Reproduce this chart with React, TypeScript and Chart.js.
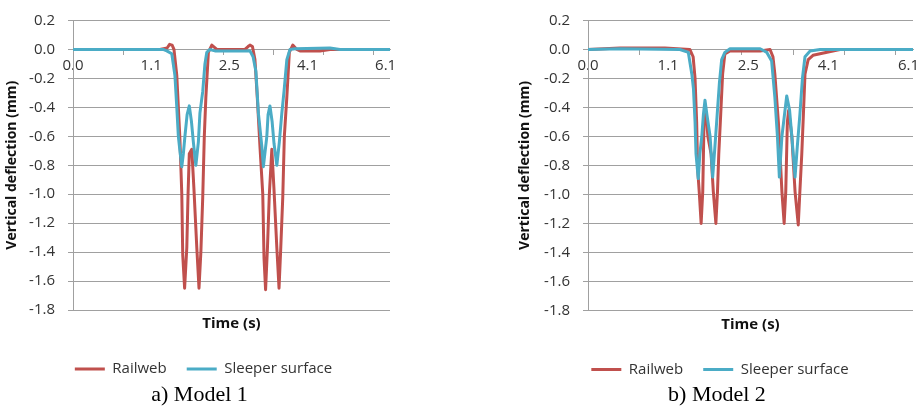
import React, { useEffect, useRef } from 'react';
import { Chart, registerables } from 'chart.js';

Chart.register(...registerables);

// ---- axis definitions ----
const yTickValues = [-1.8, -1.6, -1.4, -1.2, -1.0, -0.8, -0.6, -0.4, -0.2, 0.0, 0.2];
const xLabelPositions = [0, 25, 50, 75, 100];
const xTickLabels = ['0.0', '1.1', '2.5', '4.1', '6.1'];
const xMarkPositions = [0, 16, 32, 48, 64, 80, 96];
const xMax = 101.4;

// ---- Model 1 ----
const m1RailX = [0, 27.8, 30.1, 30.9, 31.7, 32.3, 33.2, 33.7, 34.2, 34.8, 35.1, 35.7, 36.4, 36.8, 37.2, 38.0, 38.7, 39.6, 40.3, 40.9, 41.5, 42.0, 42.5, 43.3, 44.4, 46.0, 55.0, 56.0, 56.6, 57.4, 58.2, 59.0, 59.8, 60.7, 61.1, 61.6, 62.2, 62.8, 63.6, 64.3, 65.2, 65.9, 66.4, 67.1, 67.6, 68.4, 69.2, 70.3, 71.6, 72.6, 79.0, 82.2, 101.4];
const m1RailY = [0, 0, 0.01, 0.035, 0.03, 0, -0.18, -0.4, -0.62, -1.0, -1.42, -1.65, -1.37, -1.0, -0.72, -0.69, -0.97, -1.37, -1.65, -1.4, -1.02, -0.6, -0.33, -0.02, 0.03, 0, 0, 0.02, 0.03, 0.02, -0.07, -0.35, -0.67, -1.0, -1.44, -1.66, -1.37, -1.0, -0.69, -0.97, -1.37, -1.65, -1.4, -1.02, -0.6, -0.33, -0.02, 0.03, 0, -0.01, -0.01, 0, 0];
const m1SleeperX = [0, 28.8, 30.0, 31.6, 32.6, 33.2, 33.7, 34.2, 34.8, 35.3, 35.8, 36.5, 37.2, 37.9, 38.5, 39.3, 40.1, 40.6, 41.5, 42.2, 42.8, 43.8, 45.4, 55.0, 56.6, 57.6, 58.5, 59.3, 60.4, 60.9, 62.0, 62.4, 63.0, 63.7, 64.3, 65.2, 66.0, 66.8, 67.5, 68.4, 69.4, 71.0, 82.2, 85.4, 101.4];
const m1SleeperY = [0, 0, -0.01, -0.03, -0.18, -0.4, -0.6, -0.7, -0.81, -0.72, -0.6, -0.45, -0.39, -0.5, -0.64, -0.8, -0.64, -0.44, -0.29, -0.1, -0.02, 0, -0.01, -0.01, -0.01, -0.05, -0.15, -0.44, -0.67, -0.81, -0.6, -0.45, -0.39, -0.5, -0.65, -0.8, -0.64, -0.44, -0.29, -0.07, 0, 0.005, 0.01, 0, 0];

// ---- Model 2 ----
const m2RailX = [0, 10.0, 24.0, 31.8, 32.8, 33.4, 33.9, 34.2, 34.7, 35.3, 35.8, 36.2, 36.8, 37.4, 38.4, 39.1, 39.9, 40.4, 40.8, 41.4, 42.0, 42.7, 44.3, 53.7, 56.8, 57.7, 58.3, 59.4, 60.1, 60.5, 61.2, 61.7, 62.2, 62.6, 63.6, 64.6, 65.6, 66.1, 66.7, 67.2, 67.7, 68.7, 70.2, 76.4, 78.6, 101.4];
const m2RailY = [0, 0.01, 0.01, 0, -0.05, -0.2, -0.5, -0.82, -0.98, -1.2, -0.98, -0.5, -0.43, -0.6, -0.72, -0.98, -1.2, -0.98, -0.72, -0.45, -0.17, -0.03, -0.01, -0.01, 0, -0.05, -0.17, -0.5, -0.8, -0.98, -1.2, -0.98, -0.5, -0.42, -0.6, -0.98, -1.21, -0.98, -0.72, -0.45, -0.17, -0.07, -0.04, -0.01, 0, 0];
const m2SleeperX = [0, 10.0, 28.7, 31.3, 32.4, 32.9, 33.4, 33.7, 34.4, 34.9, 35.5, 36.0, 36.5, 37.1, 38.1, 38.9, 39.6, 40.3, 41.0, 41.7, 42.7, 44.3, 53.7, 55.8, 57.3, 58.3, 59.1, 59.7, 60.5, 62.0, 62.9, 63.6, 64.6, 65.3, 66.1, 66.9, 67.7, 69.3, 72.4, 101.4];
const m2SleeperY = [0, 0.005, 0, -0.02, -0.17, -0.27, -0.5, -0.72, -0.89, -0.72, -0.6, -0.45, -0.35, -0.45, -0.6, -0.88, -0.67, -0.45, -0.23, -0.07, -0.02, 0.005, 0.005, -0.02, -0.08, -0.33, -0.6, -0.88, -0.6, -0.32, -0.42, -0.6, -0.88, -0.67, -0.45, -0.2, -0.05, -0.01, 0, 0];

const seriesNames = ['Railweb', 'Sleeper surface'];
const seriesColors = ['#C0504D', '#4BACC6'];

const FONT = "'Open Sans', 'Liberation Sans', sans-serif";
const TEXT = '#333333';
const GRID = '#A0A0A0';

type PanelCfg = {
  left: number;
  width: number;
  height: number;
  pad: { left: number; right: number; top: number; bottom: number };
  yWidth: number;
  yTitlePad: number;
  railX: number[];
  railY: number[];
  sleepX: number[];
  sleepY: number[];
};

const toPoints = (xs: number[], ys: number[]) => xs.map((x, i) => ({ x, y: ys[i] }));

function Panel({ cfg }: { cfg: PanelCfg }) {
  const ref = useRef<HTMLCanvasElement | null>(null);
  useEffect(() => {
    if (!ref.current) return;
    const chart = new Chart(ref.current, {
      type: 'line',
      data: {
        datasets: [
          {
            label: seriesNames[0],
            data: toPoints(cfg.railX, cfg.railY),
            borderColor: seriesColors[0],
            backgroundColor: seriesColors[0],
            borderWidth: 3,
            pointRadius: 0,
            tension: 0,
            borderJoinStyle: 'round',
            order: 1,
          },
          {
            label: seriesNames[1],
            data: toPoints(cfg.sleepX, cfg.sleepY),
            borderColor: seriesColors[1],
            backgroundColor: seriesColors[1],
            borderWidth: 3,
            pointRadius: 0,
            tension: 0,
            borderJoinStyle: 'round',
            order: 0,
          },
        ],
      },
      options: {
        animation: false,
        responsive: false,
        maintainAspectRatio: false,
        devicePixelRatio: 1,
        layout: { padding: cfg.pad },
        plugins: {
          tooltip: { enabled: false },
          title: { display: false },
          legend: {
            display: true,
            position: 'bottom',
            labels: {
              usePointStyle: true,
              pointStyle: 'line',
              pointStyleWidth: 30,
              padding: 20,
              color: TEXT,
              font: { family: FONT, size: 15 },
              sort: (a: any, b: any) => a.datasetIndex - b.datasetIndex,
            },
          },
        },
        scales: {
          x: {
            type: 'linear',
            position: { y: 0 },
            min: 0,
            max: xMax,
            afterBuildTicks: (s: any) => {
              const vals = Array.from(new Set([...xMarkPositions, ...xLabelPositions])).sort((a, b) => a - b);
              s.ticks = vals.map((v) => ({ value: v }));
            },
            ticks: {
              autoSkip: false,
              maxRotation: 0,
              minRotation: 0,
              padding: 2,
              color: TEXT,
              font: { family: FONT, size: 15 },
              callback: (v: any) => {
                const i = xLabelPositions.indexOf(Number(v));
                return i >= 0 ? xTickLabels[i] : '';
              },
            },
            grid: {
              drawOnChartArea: false,
              drawTicks: true,
              tickLength: 5,
              tickColor: (ctx: any) =>
                ctx.tick && xMarkPositions.includes(ctx.tick.value) ? GRID : 'rgba(0,0,0,0)',
            },
            border: { display: true, color: GRID, width: 1 },
          },
          x2: {
            type: 'linear',
            position: 'bottom',
            min: 0,
            max: 1,
            ticks: { display: false },
            grid: { display: false, drawTicks: false },
            border: { display: false },
            title: {
              display: true,
              text: 'Time (s)',
              color: '#111',
              font: { family: FONT, size: 15, weight: 'bold', lineHeight: 1.2 },
              padding: { top: 5, bottom: 8.5 },
            },
          },
          y: {
            type: 'linear',
            position: 'left',
            min: -1.8,
            max: 0.2,
            afterBuildTicks: (s: any) => {
              s.ticks = yTickValues.map((v) => ({ value: v }));
            },
            afterFit: (s: any) => {
              s.width = cfg.yWidth;
            },
            ticks: {
              padding: 13,
              color: TEXT,
              font: { family: FONT, size: 15, lineHeight: 1 },
              callback: (v: any) => Number(v).toFixed(1),
            },
            grid: { color: GRID, lineWidth: 1, drawTicks: true, tickLength: 5, tickColor: GRID },
            border: { display: true, color: GRID, width: 1 },
            title: {
              display: true,
              text: 'Vertical deflection (mm)',
              color: '#111',
              font: { family: FONT, size: 14, weight: 'bold', lineHeight: 1.2 },
              padding: { top: cfg.yTitlePad, bottom: 0 },
            },
          },
        },
      } as any,
    });
    return () => chart.destroy();
  }, [cfg]);
  return (
    <canvas
      ref={ref}
      width={cfg.width}
      height={cfg.height}
      style={{ position: 'absolute', left: cfg.left, top: 0, width: cfg.width, height: cfg.height }}
    />
  );
}

const panelA: PanelCfg = {
  left: 0,
  width: 410,
  height: 387,
  pad: { left: 17, right: 20, top: 10.5, bottom: 0.5 },
  yWidth: 56,
  yTitlePad: -13.4,
  railX: m1RailX,
  railY: m1RailY,
  sleepX: m1SleeperX,
  sleepY: m1SleeperY,
};

const panelB: PanelCfg = {
  left: 510,
  width: 425,
  height: 387,
  pad: { left: 17, right: 22, top: 8.5, bottom: 0 },
  yWidth: 61,
  yTitlePad: -9.9,
  railX: m2RailX,
  railY: m2RailY,
  sleepX: m2SleeperX,
  sleepY: m2SleeperY,
};

const captionStyle: React.CSSProperties = {
  position: 'absolute',
  top: 383,
  width: 200,
  textAlign: 'center',
  fontFamily: "'Liberation Serif', 'Times New Roman', serif",
  fontSize: 22,
  lineHeight: '22px',
  color: '#000',
  whiteSpace: 'nowrap',
};

export default function App() {
  return (
    <div
      style={{
        position: 'fixed',
        left: 0,
        top: 0,
        width: 919,
        height: 408,
        overflow: 'hidden',
        background: '#fff',
      }}
    >
      <Panel cfg={panelA} />
      <Panel cfg={panelB} />
      <div style={{ ...captionStyle, left: 99.5 }}>a) Model 1</div>
      <div style={{ ...captionStyle, left: 617 }}>b) Model 2</div>
    </div>
  );
}
